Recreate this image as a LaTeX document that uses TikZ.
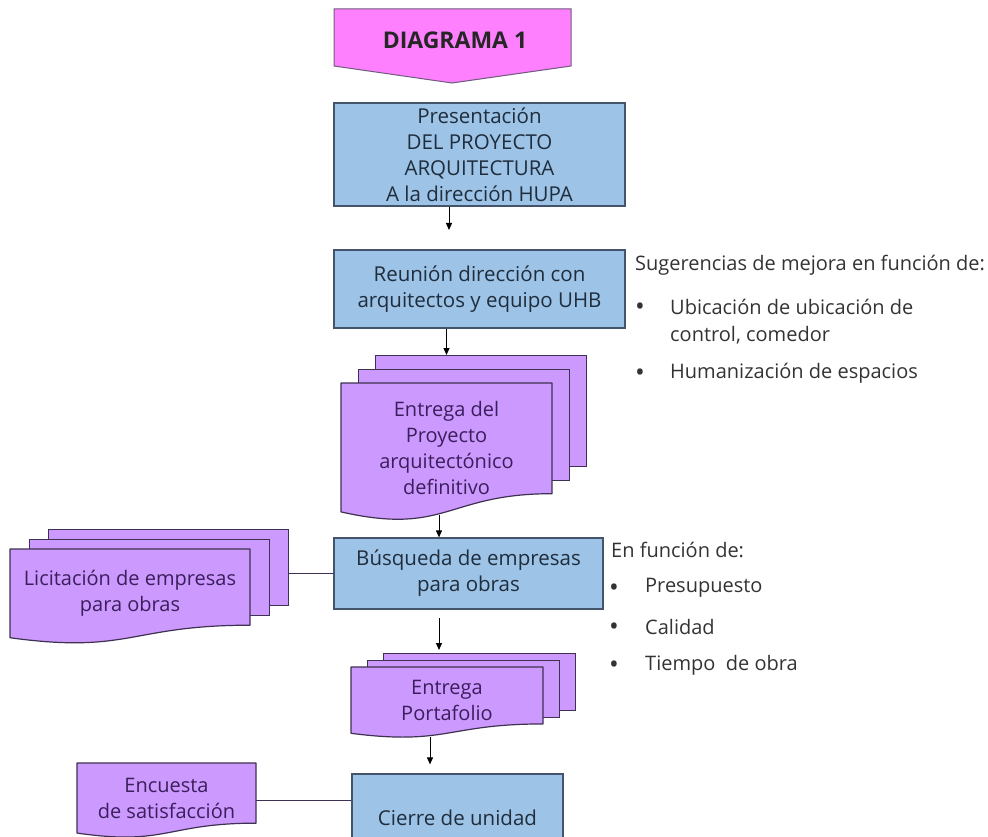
\documentclass[tikz,border=0pt]{standalone}
\usepackage{fontspec}
\setmainfont{Open Sans}
\usetikzlibrary{arrows.meta, positioning, calc}
\definecolor{BoxBlue}{HTML}{9DC3E6}
\definecolor{BoxLine}{HTML}{44546A}
\definecolor{BoxText}{HTML}{1F2D3D}
\definecolor{DocPurple}{HTML}{CC99FF}
\definecolor{DocLine}{HTML}{3F3151}
\definecolor{DocText}{HTML}{3B1E5C}
\definecolor{BannerPink}{HTML}{FF80FF}
\definecolor{BannerLine}{HTML}{6F5A7E}
\definecolor{NoteGray}{HTML}{333333}
\tikzset{
    % Box styles
    stepbox/.style={
        rectangle,
        draw=BoxLine,
        fill=BoxBlue,
        line width=1.2pt,
        inner sep=0pt,
        align=center,
        text=BoxText,
        font=\fontsize{20.5}{26}\selectfont
    },
    page/.style={
        rectangle,
        draw=DocLine,
        fill=DocPurple,
        line width=1.2pt,
        inner sep=0pt
    },
    pageline/.style={
        draw=DocLine,
        fill=DocPurple,
        line width=1.2pt,
        line join=round
    },
    doctext/.style={
        align=center,
        text=DocText,
        font=\fontsize{20}{26}\selectfont
    },
    notetext/.style={
        anchor=west,
        inner sep=0pt,
        text=NoteGray,
        font=\fontsize{20}{22}\selectfont
    },
    bullet/.style={
        notetext,
        font=\fontsize{26}{22}\selectfont
    },
    % Arrow styles
    arrow/.style={
        -{Triangle[length=7pt,width=6pt]},
        line width=1pt,
        draw=black
    },
    link/.style={
        line width=1pt,
        draw=DocLine
    }
}
% single page with wavy bottom: name, left, top, width, height, text
\newcommand{\docpage}[6]{%
    \path[pageline] (#2,#3) -- ({#2+#4},#3) -- ({#2+#4},{#3+0.802*#5})
        .. controls ({#2+0.5*#4},{#3+0.802*#5}) and ({#2+0.5*#4},{#3+1.1075*#5})
        .. (#2,{#3+0.934*#5}) -- cycle;
    \coordinate (#1-right) at ({#2+#4},{#3+0.5*#5});
    \node[doctext] (#1) at ({#2+0.5*#4},{#3+0.47*#5}) {#6};
}
% stack of three pages: name, left, top, width, height, dx, dy, text
\newcommand{\docstack}[8]{%
    \node[page, anchor=north west, minimum width=#4pt, minimum height={0.802*#5pt}]
        (#1-back) at ({#2+2*#6},{#3-2*#7}) {};
    \node[page, anchor=north west, minimum width=#4pt, minimum height={0.802*#5pt}]
        (#1-mid) at ({#2+#6},{#3-#7}) {};
    \docpage{#1}{#2}{#3}{#4}{#5}{#8}
}

\begin{document}
\begin{tikzpicture}[x=1pt, y=-1pt]
    \useasboundingbox (0,0) rectangle (988,837);

    % Title banner
    \path[draw=BannerLine, fill=BannerPink, line width=1pt]
        (334,9) -- (571,9) -- (571,66) -- (452,83) -- (334,66) -- cycle;
    \node[font=\bfseries\fontsize{23}{28}\selectfont, text=black!85] (banner) at (455,40) {DIAGRAMA 1};

    % Main column
    \node[stepbox, minimum width=291pt, minimum height=103pt] (present) at (479.5,154.5)
        {Presentación\\DEL PROYECTO\\ARQUITECTURA\\A la dirección HUPA};
    \node[stepbox, minimum width=291pt, minimum height=78pt] (reunion) at (479.5,289)
        {Reunión dirección con\\arquitectos y equipo UHB};
    \docstack{entrega}{341}{383}{211}{138}{17}{14}
        {Entrega del\\Proyecto\\arquitectónico\\definitivo}
    \node[stepbox, minimum width=269pt, minimum height=71pt] (busq) at (468.5,573.5)
        {Búsqueda de empresas\\para obras};
    \docstack{port}{351}{667}{192}{71}{16}{7}
        {Entrega\\Portafolio}
    \node[stepbox, minimum width=211pt, minimum height=88pt] (cierre) at (457.5,818)
        {Cierre de unidad};

    % Side documents
    \docstack{licit}{10}{549}{240}{95}{19}{10}
        {Licitación de empresas\\para obras}
    \docpage{encuesta}{77}{763}{179}{75}
        {Encuesta\\de satisfacción}

    % Notes
    \node[notetext] (sug) at (635,265) {Sugerencias de mejora en función de:};
    \node[bullet] (sugb1) at (635,309) {•};
    \node[notetext] (sug1) at (670,307) {Ubicación de ubicación de};
    \node[notetext] (sug1b) at (670,335) {control, comedor};
    \node[bullet] (sugb2) at (635,375) {•};
    \node[notetext] (sug2) at (670,373) {Humanización de espacios};

    \node[notetext] (fun) at (611,550) {En función de:};
    \node[bullet] (funb1) at (609,590) {•};
    \node[notetext] (fun1) at (645,588) {Presupuesto};
    \node[bullet] (funb2) at (609,629) {•};
    \node[notetext] (fun2) at (645,627) {Calidad};
    \node[bullet] (funb3) at (609,667) {•};
    \node[notetext] (fun3) at (645,665) {Tiempo~ de obra};

    % Arrows
    \coordinate (a1) at (449,230);
    \coordinate (a3) at (439,515);
    \coordinate (a4) at (439,618);
    \coordinate (a5) at (430,737);
    \draw[arrow] (present.south -| a1) -- (a1);
    \draw[arrow] (reunion.south -| entrega) -- (entrega-back.north -| entrega);
    \draw[arrow] (a3) -- (busq.north -| a3);
    \draw[arrow] (a4) -- ($(port-back.north -| a4)+(0,-3)$);
    \draw[arrow] (a5) -- ($(cierre.north -| a5)+(0,-9)$);

    % Side links
    \draw[link] (busq.west) -- (busq.west -| licit-back.east);
    \draw[link] (encuesta-right) -- (encuesta-right -| cierre.west);
\end{tikzpicture}
\end{document}
